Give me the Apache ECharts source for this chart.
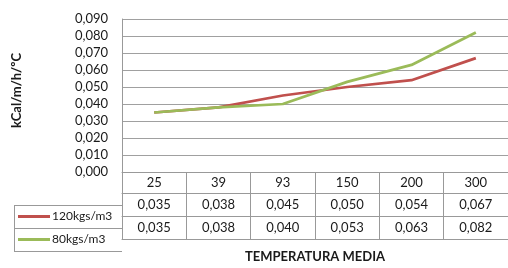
<!DOCTYPE html>
<html>
<head>
<meta charset="utf-8">
<script src="https://cdn.jsdelivr.net/npm/echarts@6/dist/echarts.min.js"></script>
<style>
html,body{margin:0;padding:0;background:#fff;}
#c{width:508px;height:268px;}
</style>
</head>
<body>
<div id="c"></div>
<script>
var categories = ['25', '39', '93', '150', '200', '300'];
var s120Name = '120kgs/m3';
var s80Name = '80kgs/m3';
var s120 = [0.035, 0.038, 0.045, 0.050, 0.054, 0.067];
var s80 = [0.035, 0.038, 0.040, 0.053, 0.063, 0.082];
var yTicks = [0, 0.01, 0.02, 0.03, 0.04, 0.05, 0.06, 0.07, 0.08, 0.09];

var FONT = 'Lato';
var TXT = '#1a1a1a';
var GRID = '#a0a0a0';
var BORDER = '#999999';
function fmt(v){ return v.toFixed(3).replace('.', ','); }

var chart = echarts.init(document.getElementById('c'), null, {renderer: 'canvas'});
var tableAxis = function(data, offset, showLabel, extra){
  var ax = {
    type: 'category',
    position: 'bottom',
    offset: offset,
    data: data,
    boundaryGap: true,
    axisLine: {show: true, lineStyle: {color: BORDER, width: 1}},
    axisTick: {show: false},
    axisLabel: {show: showLabel, margin: 4, fontFamily: FONT, fontSize: 13, lineHeight: 15, color: TXT, interval: 0},
    splitLine: {show: false}
  };
  if (extra) Object.assign(ax, extra);
  return ax;
};

var legendText = {fontFamily: FONT, fontSize: 12, lineHeight: 15, color: TXT, padding: [0, 0, 0, -3]};

var option = {
  animation: false,
  backgroundColor: '#fff',
  grid: {left: 122, top: 19, width: 398, height: 165, containLabel: false},
  legend: [
    {data: [s120Name], left: 18, top: 209, padding: 0, orient: 'horizontal', selectedMode: false,
     icon: 'rect', itemWidth: 32, itemHeight: 3, itemGap: 0, textStyle: legendText},
    {data: [s80Name], left: 18, top: 232, padding: 0, orient: 'horizontal', selectedMode: false,
     icon: 'rect', itemWidth: 32, itemHeight: 3, itemGap: 0, textStyle: legendText}
  ],
  xAxis: [
    tableAxis(categories, 0, true, {
      axisTick: {show: true, length: 67, inside: false, alignWithLabel: false, lineStyle: {color: BORDER, width: 1}},
      axisLabel: {show: true, margin: 3, fontFamily: FONT, fontSize: 13, lineHeight: 15, color: TXT, interval: 0}
    }),
    tableAxis(s120.map(fmt), 21, true),
    tableAxis(s80.map(fmt), 44, true),
    tableAxis(categories, 67, false, {
      name: 'TEMPERATURA MEDIA', nameLocation: 'middle', nameGap: 11,
      nameTextStyle: {fontFamily: FONT, fontSize: 13, fontWeight: 'bold', color: TXT}
    })
  ],
  yAxis: {
    type: 'value',
    min: 0, max: 0.09, interval: 0.01,
    axisLine: {show: true, lineStyle: {color: BORDER, width: 1}},
    axisTick: {show: false},
    axisLabel: {margin: 14, fontFamily: FONT, fontSize: 13, color: TXT, formatter: function(v){ return fmt(v); }},
    splitLine: {show: true, lineStyle: {color: GRID, width: 1}},
    name: 'kCal/m/h/ºC', nameLocation: 'middle', nameGap: 99,
    nameTextStyle: {fontFamily: FONT, fontSize: 13, fontWeight: 'bold', color: TXT, padding: [0, 0, 0, 10]}
  },
  graphic: [
    {type: 'line', shape: {x1: 14, y1: 205.5, x2: 122, y2: 205.5}, style: {stroke: BORDER, lineWidth: 1}},
    {type: 'line', shape: {x1: 14, y1: 228.5, x2: 122, y2: 228.5}, style: {stroke: BORDER, lineWidth: 1}},
    {type: 'line', shape: {x1: 14, y1: 251.5, x2: 122, y2: 251.5}, style: {stroke: BORDER, lineWidth: 1}},
    {type: 'line', shape: {x1: 14.5, y1: 205, x2: 14.5, y2: 252}, style: {stroke: BORDER, lineWidth: 1}}
  ],
  series: [
    {name: s120Name, type: 'line', data: s120, xAxisIndex: 0, showSymbol: false, symbol: 'none',
     lineStyle: {color: '#C0504D', width: 2.75}, itemStyle: {color: '#C0504D'}, z: 3},
    {name: s80Name, type: 'line', data: s80, xAxisIndex: 0, showSymbol: false, symbol: 'none',
     lineStyle: {color: '#9BBB59', width: 2.75}, itemStyle: {color: '#9BBB59'}, z: 4}
  ]
};
chart.setOption(option);
</script>
</body>
</html>
